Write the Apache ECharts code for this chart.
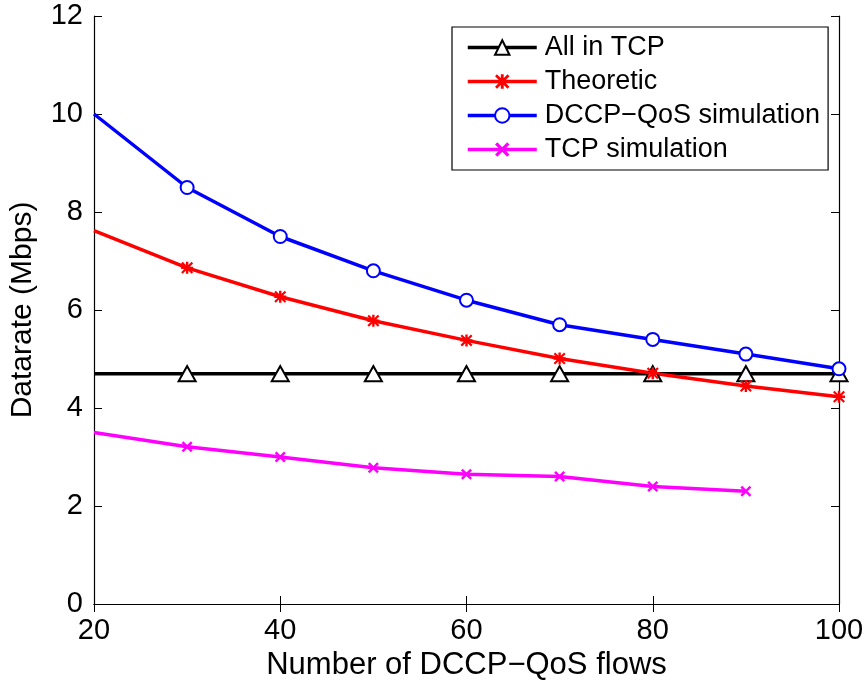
<!DOCTYPE html>
<html>
<head>
<meta charset="utf-8">
<script src="https://cdn.jsdelivr.net/npm/echarts@6/dist/echarts.min.js"></script>
<style>
  html, body { margin: 0; padding: 0; background: #fff; }
  #chart { width: 867px; height: 684px; }
</style>
</head>
<body>
<div id="chart"></div>
<script>
// Number of DCCP-QoS flows
const flows = [20, 30, 40, 50, 60, 70, 80, 90, 100];
const flowsTcpSim = [20, 30, 40, 50, 60, 70, 80, 90];

// Datarate (Mbps) per series
const allInTcp = [4.7, 4.7, 4.7, 4.7, 4.7, 4.7, 4.7, 4.7, 4.7];
const theoretic = [7.62, 6.86, 6.27, 5.78, 5.38, 5.01, 4.71, 4.45, 4.23];
const dccpQosSim = [10.0, 8.5, 7.5, 6.8, 6.2, 5.7, 5.4, 5.1, 4.8];
const tcpSim = [3.5, 3.21, 3.0, 2.78, 2.65, 2.6, 2.4, 2.3];

const xTicks = { min: 20, max: 100, interval: 20 };
const yTicks = { min: 0, max: 12, interval: 2 };

const FONT = '"Liberation Sans", Arial, Helvetica, sans-serif';

// marker shapes
const asteriskPath = 'path://M0,4 L10,4 L10,6 L0,6 Z M4,0 L6,0 L6,10 L4,10 Z ' +
  'M0,1.3 L1.3,0 L10,8.7 L8.7,10 Z M8.7,0 L10,1.3 L1.3,10 L0,8.7 Z';
const crossPath = 'path://M0,1.6 L1.6,0 L10,8.4 L8.4,10 Z M8.4,0 L10,1.6 L1.6,10 L0,8.4 Z';

// the first point of every curve carries no marker
function toData(xs, ys) {
  return ys.map((y, i) => i === 0 ? { value: [xs[i], y], symbol: 'none' } : [xs[i], y]);
}

const chart = echarts.init(document.getElementById('chart'), null, { renderer: 'canvas' });

const axisCommon = {
  type: 'value',
  axisLine: { show: true, lineStyle: { color: '#000', width: 1.2 } },
  axisTick: { show: true, inside: true, length: 8, lineStyle: { color: '#000', width: 1 } },
  splitLine: { show: false }
};

chart.setOption({
  animation: false,
  backgroundColor: '#fff',
  grid: { left: 94, right: 28, top: 16, bottom: 80, containLabel: false, outerBoundsMode: 'none' },
  xAxis: [
    Object.assign({}, axisCommon, {
      position: 'bottom',
      min: xTicks.min, max: xTicks.max, interval: xTicks.interval,
      name: 'Number of DCCP\u2212QoS flows',
      nameLocation: 'middle', nameGap: 44,
      nameTextStyle: { fontFamily: FONT, fontSize: 31, color: '#000' },
      axisLabel: { fontFamily: FONT, fontSize: 29, color: '#000', margin: 12 }
    }),
    Object.assign({}, axisCommon, {
      position: 'top',
      min: xTicks.min, max: xTicks.max, interval: xTicks.interval,
      axisLabel: { show: false }
    })
  ],
  yAxis: [
    Object.assign({}, axisCommon, {
      position: 'left',
      min: yTicks.min, max: yTicks.max, interval: yTicks.interval,
      name: 'Datarate (Mbps)',
      nameLocation: 'middle', nameGap: 56,
      nameTextStyle: { fontFamily: FONT, fontSize: 30, color: '#000' },
      axisLabel: { fontFamily: FONT, fontSize: 29, color: '#000', margin: 11 }
    }),
    Object.assign({}, axisCommon, {
      position: 'right',
      min: yTicks.min, max: yTicks.max, interval: yTicks.interval,
      axisLabel: { show: false }
    })
  ],
  legend: {
    orient: 'vertical',
    left: 452, top: 27,
    padding: [7, 8, 7, 14],
    itemWidth: 69, itemHeight: 18, itemGap: 7,
    backgroundColor: '#fff',
    borderColor: '#000', borderWidth: 1.2,
    lineStyle: { width: 3.5 },
    itemStyle: { borderWidth: 2.5 },
    textStyle: { fontFamily: FONT, fontSize: 27, color: '#000', lineHeight: 27, padding: [0, 0, 0, 3] },
    data: ['All in TCP', 'Theoretic', 'DCCP\u2212QoS simulation', 'TCP simulation']
  },
  series: [
    {
      name: 'All in TCP', type: 'line', clip: false,
      data: toData(flows, allInTcp),
      symbol: 'emptyTriangle', symbolSize: [17, 15],
      lineStyle: { color: '#000', width: 3.5 },
      itemStyle: { color: '#000', borderColor: '#000', borderWidth: 2.8 }
    },
    {
      name: 'Theoretic', type: 'line', clip: false,
      data: toData(flows, theoretic),
      symbol: asteriskPath, symbolSize: 12,
      lineStyle: { color: '#ff0000', width: 3.5 },
      itemStyle: { color: '#ff0000', borderWidth: 0 }
    },
    {
      name: 'DCCP\u2212QoS simulation', type: 'line', clip: false,
      data: toData(flows, dccpQosSim),
      symbol: 'emptyCircle', symbolSize: 13,
      lineStyle: { color: '#0000ff', width: 3.5 },
      itemStyle: { color: '#0000ff', borderColor: '#0000ff', borderWidth: 2.8 }
    },
    {
      name: 'TCP simulation', type: 'line', clip: false,
      data: toData(flowsTcpSim, tcpSim),
      symbol: crossPath, symbolSize: 11,
      lineStyle: { color: '#ff00ff', width: 3.5 },
      itemStyle: { color: '#ff00ff', borderWidth: 0 }
    }
  ]
});
</script>
</body>
</html>
